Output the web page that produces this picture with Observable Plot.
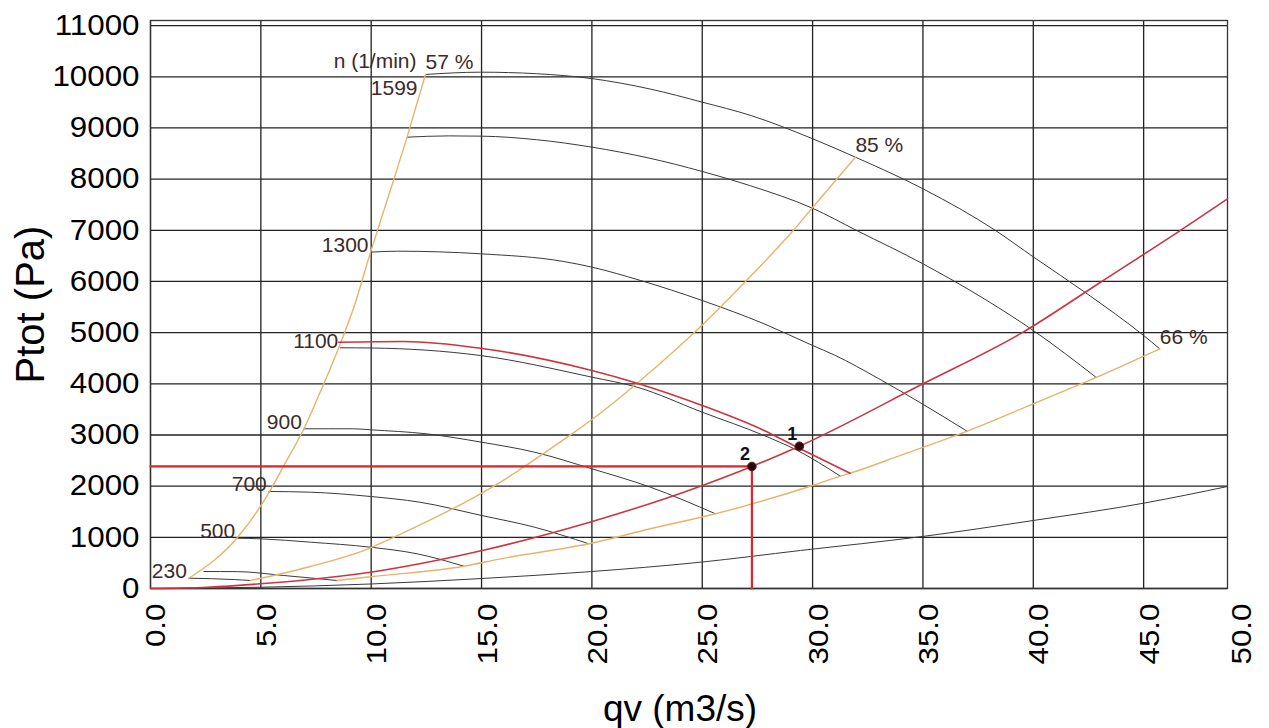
<!DOCTYPE html>
<html><head><meta charset="utf-8">
<script src="https://cdn.jsdelivr.net/npm/d3@7"></script>
<script src="https://cdn.jsdelivr.net/npm/@observablehq/plot@0.6"></script>
<style>html,body{margin:0;padding:0;background:#fff;}</style>
</head><body>
<div id="chart"></div>
<script>
// ---------- data (qv m3/s, Ptot Pa) ----------
const n1599 = [[12.46,10045],[14.95,10090],[17.5,10060],[20,9965],[22.65,9760],[25,9504],[27.2,9244],[30,8789],[31.94,8429],[35,7811],[38.29,6996],[40.02,6475],[42.44,5759],[45,4944],[45.73,4684]];
const n1450 = [[11.63,8820],[13.5,8845],[15,8840],[17.5,8770],[20,8625],[22.5,8420],[25,8150],[27.19,7870],[30,7430],[32,6996],[35,6345],[37.9,5628],[40,5042],[42.85,4125]];
const n1300 = [[9.97,6573],[11.18,6592],[14.95,6541],[18.73,6390],[20,6280],[22.2,6020],[25,5628],[27.8,5173],[30,4749],[31,4560],[33,4100],[35,3600],[37,3074]];
const n1100op = [[8.53,4813],[11.48,4827],[14.95,4696],[20,4260],[22.05,4012],[25,3576],[27.8,3088],[29.3,2761],[31.7,2253]];
const n1100 = [[8.6,4704],[10,4700],[14.95,4553],[20,4130],[22.05,3934],[25,3445],[27.8,2990],[29.3,2700],[31.26,2195]];
const n900 = [[6.95,3121],[9.21,3121],[9.97,3101],[12.5,3023],[15,2859],[17.4,2664],[20,2339],[22.65,1980],[25.6,1460]];
const n700 = [[5.36,1896],[7.25,1882],[9.97,1798],[12.2,1687],[15,1427],[17.4,1198],[19.86,874]];
const n500 = [[3.93,983],[4.98,971],[7.25,905],[9.97,807],[12.08,678],[14.2,436]];
const n230 = [[1.74,201],[3.8,175],[4.53,156]];
const n230b = [[2.42,332],[3.93,330],[6.04,254],[8.46,156]];

const eff57 = [[1.74,201],[3.93,991],[5.36,1870],[6.04,2400],[6.95,3121],[7.55,3700],[8.57,4750],[9.21,5490],[9.97,6573],[10.72,7582],[11.63,8830],[12.46,10045]];
const eff85 = [[4.53,156],[7.25,430],[9.97,795],[10.87,971],[15.03,1870],[15.86,2080],[16.9,2371],[18.88,2957],[19.94,3283],[20.54,3479],[22.05,4012],[25,5150],[26.96,6000],[29.15,7010],[30,7445],[31.94,8429]];
const eff66 = [[8.46,156],[9.97,230],[14.2,436],[15.86,580],[19.86,874],[22.65,1167],[25.6,1460],[30,2013],[31.26,2195],[31.7,2253],[33.98,2600],[37,3074],[40,3610],[42.85,4125],[45.73,4684]];

const systemRed = [[0,0],[2.57,25],[4.98,92],[9.97,319],[15.03,743],[19.94,1300],[24.92,2000],[27.25,2385],[29.4,2780],[35,4000],[39.5,5000],[43.1,6000],[46.67,7000],[48.8,7616]];
const systemBlack = [[0,0],[5,25],[9.97,88],[15,195],[19.94,330],[24.92,514],[29.45,743],[34.97,1016],[40,1329],[45,1667],[48.8,1993]];

const opQ = 27.25, opP = 2385;
const pointQ = [29.4, 27.25];
const pointP = [2780, 2385];
const pointLabels = ["1", "2"];

const speedLabels = ["1300", "1100", "900", "700", "500", "230"];
const speedLabelCurves = [n1300, n1100, n900, n700, n500, n230];
const effLabels = ["57 %", "85 %", "66 %"];
const effCurves = [eff57, eff85, eff66];
const speedUnit = "n (1/min)";
const topSpeedLabel = "1599";

const xTickValues = [0,5,10,15,20,25,30,35,40,45,50];
const yTickValues = [0,1000,2000,3000,4000,5000,6000,7000,8000,9000,10000,11000];
const xTitle = "qv (m3/s)";
const yTitle = "Ptot (Pa)";

// ---------- build tables ----------
const toRows = (pts, name) => pts.map(([q, p]) => ({q, p, name}));
const speedRows = [
  ...toRows(n1599, "1599"), ...toRows(n1450, "1450"), ...toRows(n1300, "1300"),
  ...toRows(n1100, "1100"), ...toRows(n900, "900"), ...toRows(n700, "700"),
  ...toRows(n500, "500"), ...toRows(n230, "230"), ...toRows(n230b, "230b"),
  ...toRows(systemBlack, "sys")
];
const effRows = [...toRows(eff57, "57"), ...toRows(eff85, "85"), ...toRows(eff66, "66")];
const redRows = [...toRows(n1100op, "op"), ...toRows(systemRed, "sysred")];
const guideRows = [{q: 0, p: opP}, {q: opQ, p: opP}, {q: opQ, p: 0}];
const pointRows = pointQ.map((q, i) => ({q, p: pointP[i], label: pointLabels[i]}));
const speedLabelRows = speedLabels.map((t, i) => ({q: speedLabelCurves[i][0][0], p: speedLabelCurves[i][0][1], t}));
const effLabelRows = effLabels.map((t, i) => { const e = effCurves[i][effCurves[i].length - 1]; return {q: e[0], p: e[1], t}; });
const top57 = eff57[eff57.length - 1];

const xMax = 48.8, yMax = 11100;
const xLastLabelAt = 49.2; // the "50.0" label sits just beyond the truncated frame
const xTickPos = xTickValues.map(v => Math.min(v, xLastLabelAt));
const labelColor = "#3b2a2a";
const FONT = "'Liberation Sans', Arial, Helvetica, sans-serif";

const chart = Plot.plot({
  width: 1269, height: 728,
  marginLeft: 150, marginRight: 42, marginTop: 20, marginBottom: 140,
  x: {domain: [0, xMax]},
  y: {domain: [0, yMax]},
  style: {fontFamily: FONT, background: "#fff", color: "#000", overflow: "visible"},
  marks: [
    Plot.gridX(xTickValues.filter(v => v <= xMax), {stroke: "#222", strokeOpacity: 1, strokeWidth: 1.3}),
    Plot.gridY(yTickValues, {stroke: "#222", strokeOpacity: 1, strokeWidth: 1.3}),
    Plot.frame({stroke: "#333", strokeWidth: 1.3}),
    Plot.axisX(xTickPos, {tickSize: 0, tickPadding: 15, tickRotate: -90, fontSize: 28, dx: 6,
      tickFormat: d => xTickValues[xTickPos.indexOf(d)].toFixed(1), label: null, fill: "#000"}),
    Plot.axisY(yTickValues, {tickSize: 0, tickPadding: 11, fontSize: 29, tickFormat: d => String(d), label: null, fill: "#000"}),
    Plot.text([xTitle], {text: d => d, frameAnchor: "bottom", textAnchor: "middle", dy: 132, dx: -9, lineAnchor: "bottom", fontSize: 37, fill: "#000", ariaLabel: "x-title"}),
    Plot.text([yTitle], {text: d => d, frameAnchor: "left", textAnchor: "middle", dx: -135, rotate: -90, lineAnchor: "top", fontSize: 40, fill: "#000", ariaLabel: "y-title"}),

    Plot.line(speedRows, {x: "q", y: "p", z: "name", stroke: "#3a3a3a", strokeWidth: 1, curve: "monotone-x"}),
    Plot.line(effRows, {x: "q", y: "p", z: "name", stroke: "#e9b26b", strokeWidth: 1.4, curve: "monotone-x"}),
    Plot.line(redRows, {x: "q", y: "p", z: "name", stroke: "#cc3540", strokeWidth: 1.6, curve: "monotone-x"}),
    Plot.line(guideRows, {x: "q", y: "p", stroke: "#e0242a", strokeWidth: 2.2}),
    Plot.dot(pointRows, {x: "q", y: "p", r: 4.3, fill: "#260808", stroke: "#6a1010", strokeWidth: 1}),
    Plot.text(pointRows, {x: "q", y: "p", text: "label", dx: -7, dy: -6, lineAnchor: "bottom", fontSize: 18, fontWeight: "bold", fill: "#111"}),

    Plot.text(speedLabelRows, {x: "q", y: "p", text: "t", textAnchor: "end", lineAnchor: "bottom", dx: -2, fontSize: 21, fill: labelColor}),
    Plot.text([n1599[0]], {x: d => d[0], y: d => d[1], text: () => topSpeedLabel, textAnchor: "end", lineAnchor: "bottom", dx: -8, dy: 21, fontSize: 21, fill: labelColor}),
    Plot.text([top57], {x: d => d[0], y: d => d[1], text: () => speedUnit, textAnchor: "end", lineAnchor: "bottom", dx: -9, dy: -6, fontSize: 21, fill: labelColor}),
    Plot.text(effLabelRows, {x: "q", y: "p", text: "t", textAnchor: "start", lineAnchor: "bottom", dy: -5, fontSize: 21, fill: labelColor})
  ]
});
document.getElementById("chart").append(chart);

// axis text in the reference is set a little wider than Arial
function stretch(sel, f) {
  chart.querySelectorAll(sel).forEach(t => {
    const w = t.getComputedTextLength();
    if (w > 0) { t.setAttribute("textLength", (w * f).toFixed(1)); t.setAttribute("lengthAdjust", "spacingAndGlyphs"); }
  });
}
stretch('g[aria-label="y-axis tick label"] text', 1.08);
stretch('g[aria-label="x-axis tick label"] text', 1.12);
stretch('g[aria-label="x-title"] text', 1.12);
stretch('g[aria-label="y-title"] text', 1.05);
</script>
</body></html>
